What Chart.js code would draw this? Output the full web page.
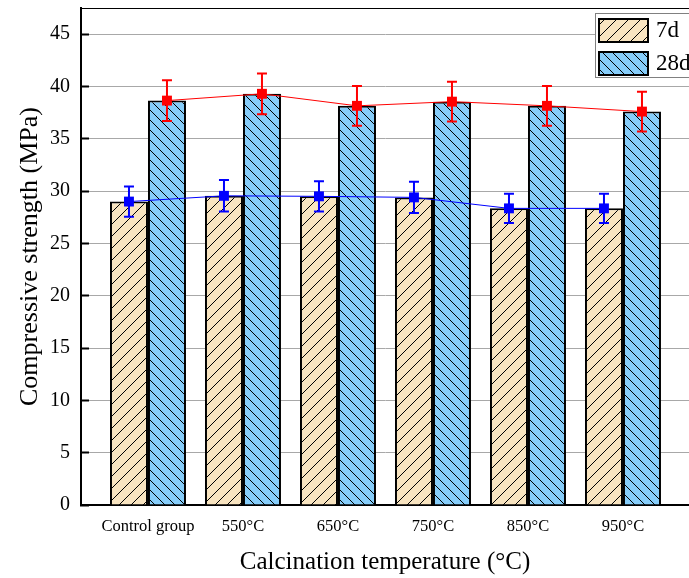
<!DOCTYPE html>
<html>
<head>
<meta charset="utf-8">
<script src="https://cdn.jsdelivr.net/npm/chart.js@4"></script>
<style>
  html, body { margin: 0; padding: 0; background: #fff; }
</style>
</head>
<body>
<canvas id="strengthChart" width="689" height="578"></canvas>
<script>
const categories = ['Control group', '550°C', '650°C', '750°C', '850°C', '950°C'];
const strength7d = [29.0, 29.55, 29.5, 29.4, 28.35, 28.35];
const strength28d = [38.65, 39.3, 38.15, 38.55, 38.15, 37.6];
const error7d = [1.45, 1.5, 1.45, 1.5, 1.4, 1.4];
const error28d = [1.95, 1.95, 1.9, 1.9, 1.9, 1.9];
const seriesLabels = ['7d', '28d'];

const serif = "'Liberation Serif', 'Times New Roman', serif";

// hatch fill for the bars
function hatch(bg, dir, s) {
    const c = document.createElement('canvas');
    c.width = s; c.height = s;
    const g = c.getContext('2d');
    g.fillStyle = bg;
    g.fillRect(0, 0, s, s);
    g.strokeStyle = '#000';
    g.lineWidth = 1;
    g.beginPath();
    if (dir > 0) {
        g.moveTo(0, s); g.lineTo(s, 0);
        g.moveTo(-2, 2); g.lineTo(2, -2);
        g.moveTo(s - 2, s + 2); g.lineTo(s + 2, s - 2);
    } else {
        g.moveTo(0, 0); g.lineTo(s, s);
        g.moveTo(s - 2, -2); g.lineTo(s + 2, 2);
        g.moveTo(-2, s - 2); g.lineTo(2, s + 2);
    }
    g.stroke();
    return g.createPattern(c, 'repeat');
}

const fill7d = hatch('#F8E4C0', 1, 12);
const fill28d = hatch('#86CDFA', -1, 10);

const errorBars = {
    id: 'errorBars',
    afterDatasetsDraw(chart) {
        const ctx = chart.ctx;
        const ys = chart.scales.y;
        chart.data.datasets.forEach((ds, i) => {
            if (!ds.errors) return;
            const meta = chart.getDatasetMeta(i);
            ctx.save();
            ctx.strokeStyle = ds.borderColor;
            ctx.lineWidth = 2;
            meta.data.forEach((pt, j) => {
                const v = ds.data[j].y;
                const e = ds.errors[j];
                const top = ys.getPixelForValue(v + e);
                const bot = ys.getPixelForValue(v - e);
                ctx.beginPath();
                ctx.moveTo(pt.x, top); ctx.lineTo(pt.x, bot);
                ctx.moveTo(pt.x - 5, top); ctx.lineTo(pt.x + 5, top);
                ctx.moveTo(pt.x - 5, bot); ctx.lineTo(pt.x + 5, bot);
                ctx.stroke();
            });
            ctx.restore();
        });
    }
};

const frameAndLegend = {
    id: 'frameAndLegend',
    afterDraw(chart) {
        const ctx = chart.ctx;
        const area = chart.chartArea;
        ctx.save();
        // top frame line
        ctx.strokeStyle = '#000';
        ctx.lineWidth = 1;
        ctx.beginPath();
        ctx.moveTo(area.left, area.top + 0.5);
        ctx.lineTo(area.right, area.top + 0.5);
        ctx.stroke();

        // legend box
        const bx = area.right - 94, by = area.top + 5;
        ctx.fillStyle = '#fff';
        ctx.fillRect(bx, by, 100, 64);
        ctx.strokeStyle = '#808080';
        ctx.strokeRect(bx + 0.5, by + 0.5, 100, 64);
        const fills = [fill7d, fill28d];
        ctx.font = '23px ' + serif;
        ctx.textBaseline = 'middle';
        seriesLabels.forEach((lab, k) => {
            const sy = by + 6 + k * 33;
            ctx.fillStyle = fills[k];
            ctx.fillRect(bx + 4, sy, 49, 23);
            ctx.strokeStyle = '#000';
            ctx.lineWidth = 2;
            ctx.strokeRect(bx + 4, sy, 49, 23);
            ctx.fillStyle = '#000';
            ctx.fillText(lab, bx + 61, sy + 12);
        });
        ctx.restore();
    }
};

const ctx = document.getElementById('strengthChart').getContext('2d');

new Chart(ctx, {
    type: 'bar',
    data: {
        datasets: [
            {
                type: 'line',
                label: '7d mean',
                data: strength7d.map((v, i) => ({ x: i - 0.2, y: v })),
                errors: error7d,
                borderColor: '#0000FF',
                backgroundColor: '#0000FF',
                borderWidth: 1,
                pointStyle: 'rect',
                pointRadius: 7,
                pointBorderWidth: 0,
                order: 0
            },
            {
                type: 'line',
                label: '28d mean',
                data: strength28d.map((v, i) => ({ x: i + 0.2, y: v })),
                errors: error28d,
                borderColor: '#FF0000',
                backgroundColor: '#FF0000',
                borderWidth: 1,
                pointStyle: 'rect',
                pointRadius: 7,
                pointBorderWidth: 0,
                order: 0
            },
            {
                label: seriesLabels[0],
                data: strength7d.map((v, i) => ({ x: i, y: v })),
                backgroundColor: fill7d,
                borderColor: '#000',
                borderWidth: 2,
                barPercentage: 1,
                categoryPercentage: 0.8,
                order: 1
            },
            {
                label: seriesLabels[1],
                data: strength28d.map((v, i) => ({ x: i, y: v })),
                backgroundColor: fill28d,
                borderColor: '#000',
                borderWidth: 2,
                barPercentage: 1,
                categoryPercentage: 0.8,
                order: 1
            }
        ]
    },
    options: {
        responsive: false,
        animation: false,
        layout: { autoPadding: false, padding: { top: 8, right: 0, left: 0, bottom: 0 } },
        plugins: {
            legend: { display: false },
            tooltip: { enabled: false }
        },
        scales: {
            x: {
                type: 'linear',
                min: -0.705,
                max: 5.695,
                offset: false,
                grid: { display: false, offset: false },
                border: { display: true, color: '#000', width: 2 },
                ticks: {
                    stepSize: 1,
                    includeBounds: false,
                    autoSkip: false,
                    maxRotation: 0,
                    padding: 4,
                    color: '#000',
                    font: { family: serif, size: 16.5 },
                    callback: v => categories[v] || ''
                },
                title: {
                    display: true,
                    text: 'Calcination temperature (°C)',
                    color: '#000',
                    font: { family: serif, size: 25 },
                    padding: { top: 0, bottom: 1 }
                },
                afterFit: s => {
                    s.height = 73;
                    s.paddingLeft = 0;
                    s.paddingRight = 0;
                }
            },
            y: {
                min: 0,
                max: 47.5,
                grid: {
                    drawTicks: true,
                    tickLength: -8,
                    tickColor: c => (c.tick && c.tick.value % 5 !== 0) ? 'rgba(0,0,0,0.55)' : '#000',
                    tickWidth: c => (c.tick && c.tick.value % 5 !== 0) ? 1.5 : 2,
                    color: c => (c.tick && c.tick.value % 5 !== 0) ? '#c8c8c8' : '#a8a8a8',
                    lineWidth: 1
                },
                border: {
                    display: true,
                    color: '#000',
                    width: 2,
                    dash: c => (c.tick && c.tick.value % 5 !== 0) ? [2, 2] : []
                },
                ticks: {
                    stepSize: 2.5,
                    padding: 19,
                    color: '#000',
                    font: { family: serif, size: 20 },
                    callback: v => (v % 5 === 0 ? v : '')
                },
                title: {
                    display: true,
                    text: 'Compressive strength (MPa)',
                    color: '#000',
                    font: { family: serif, size: 26 },
                    padding: { top: 15, bottom: 0 }
                },
                afterFit: s => {
                    s.width = 81;
                    s.paddingTop = 0;
                    s.paddingBottom = 0;
                }
            }
        }
    },
    plugins: [errorBars, frameAndLegend]
});
</script>
</body>
</html>
